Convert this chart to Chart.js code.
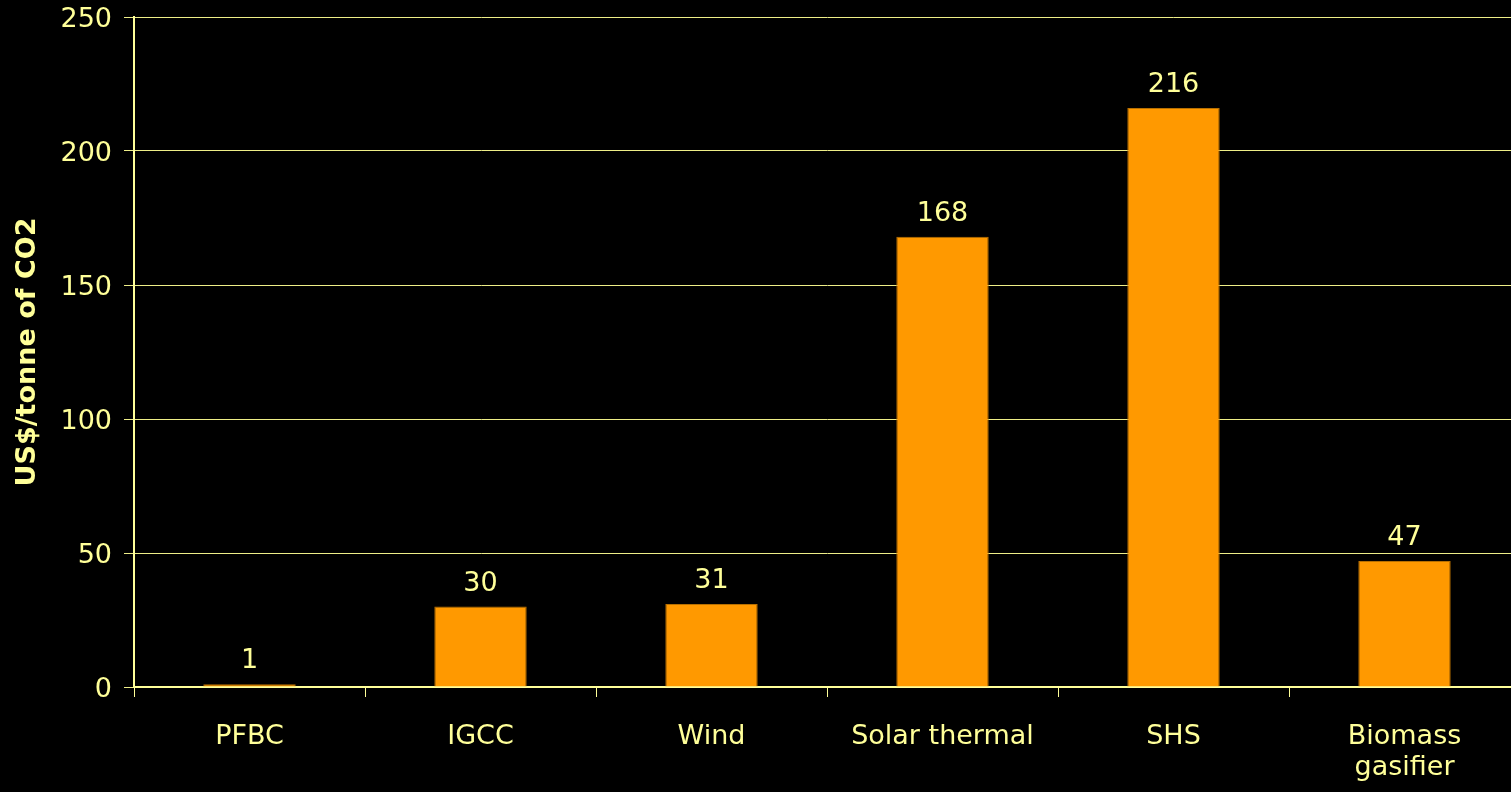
<!DOCTYPE html>
<html>
<head>
<meta charset="utf-8">
<script src="https://cdn.jsdelivr.net/npm/chart.js@4"></script>
<style>
  html, body { margin: 0; padding: 0; background: #000; overflow: hidden; }
  #wrap { width: 1511px; height: 792px; overflow: hidden; }
</style>
</head>
<body>
<div id="wrap"><canvas id="costChart" width="1520" height="792"></canvas></div>
<script>
const categories = ['PFBC', 'IGCC', 'Wind', 'Solar thermal', 'SHS', ['Biomass', 'gasifier']];
const costValues = [1, 30, 31, 168, 216, 47];
const yTicks = [0, 50, 100, 150, 200, 250];

const textColor = '#FFFF99';
const fontFamily = '"DejaVu Sans", Verdana, sans-serif';

// draw the value above each bar
const valueLabels = {
    id: 'valueLabels',
    afterDatasetsDraw(chart) {
        const ctx = chart.ctx;
        const meta = chart.getDatasetMeta(0);
        ctx.save();
        ctx.fillStyle = textColor;
        ctx.font = '27px ' + fontFamily;
        ctx.textAlign = 'center';
        ctx.textBaseline = 'alphabetic';
        meta.data.forEach((bar, i) => {
            ctx.fillText(String(costValues[i]), bar.x, bar.y - 16);
        });
        ctx.restore();
    }
};

const ctx = document.getElementById('costChart').getContext('2d');

const chart = new Chart(ctx, {
    type: 'bar',
    data: {
        labels: categories,
        datasets: [{
            data: costValues,
            backgroundColor: '#FF9900',
            borderColor: '#B87000',
            borderWidth: 1,
            barPercentage: 0.4,
            categoryPercentage: 1.0
        }]
    },
    options: {
        responsive: false,
        animation: false,
        layout: { padding: { top: 17, right: 0, left: 0, bottom: 0 } },
        plugins: {
            legend: { display: false },
            tooltip: { enabled: false }
        },
        scales: {
            x: {
                afterFit: (scale) => { scale.height = 105; },
                grid: {
                    offset: true,
                    drawOnChartArea: false,
                    color: textColor,
                    tickLength: 10,
                    lineWidth: 1
                },
                border: { color: textColor, width: 2 },
                ticks: {
                    color: textColor,
                    padding: 24,
                    font: { family: fontFamily, size: 27, lineHeight: 1.15 }
                }
            },
            y: {
                min: 0,
                max: 250,
                afterFit: (scale) => {
                    scale.width = 134;
                    scale.paddingTop = 0;
                    scale.paddingBottom = 0;
                },
                afterBuildTicks: (scale) => { scale.ticks = yTicks.map(v => ({ value: v })); },
                grid: {
                    color: '#EEEE88',
                    tickLength: 10,
                    lineWidth: 1
                },
                border: { color: textColor, width: 2 },
                ticks: {
                    color: textColor,
                    padding: 12,
                    labelOffset: 3,
                    font: { family: fontFamily, size: 27 }
                },
                title: {
                    display: true,
                    text: 'US$/tonne of CO2',
                    color: textColor,
                    padding: { top: 12, bottom: 0 },
                    font: { family: fontFamily, size: 27, weight: 'bold' }
                }
            }
        }
    },
    plugins: [valueLabels]
});
</script>
</body>
</html>
